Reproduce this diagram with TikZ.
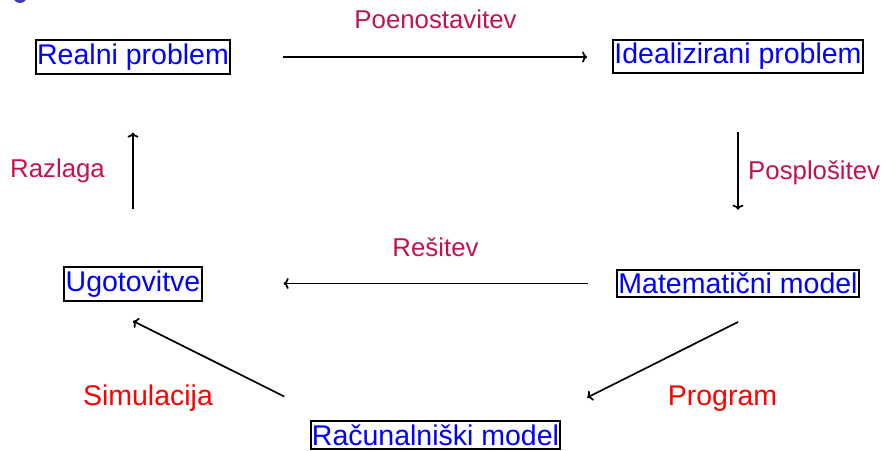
\documentclass[tikz,border=0pt]{standalone}
\usepackage{fontspec}
\setmainfont{Liberation Sans}
\usetikzlibrary{calc,arrows.meta}
\definecolor{lblpurple}{RGB}{196,18,78}
\definecolor{bulletblue}{RGB}{60,60,190}
\tikzset{
  box/.style={draw=black, line width=2pt, text=blue, inner xsep=1.3pt, inner ysep=3.3pt, outer sep=0pt,
    font=\fontsize{28.5}{34}\selectfont},
  arr/.style={-{To[length=5pt,width=11pt]}, line width=1.7pt, black},
  plbl/.style={text=lblpurple, inner sep=0pt, font=\fontsize{25.8}{30}\selectfont},
  rlbl/.style={text=red, inner sep=0pt, font=\fontsize{28.5}{34}\selectfont},
}
\begin{document}
\begin{tikzpicture}[x=1pt,y=-1pt]
\useasboundingbox (0,0) rectangle (882,450);
\begin{scope}
\clip (0,0) rectangle (882,450);
\fill[bulletblue] (20,-4) circle (7);
\end{scope}
% nodes
\node[box] (R) at (133,57) {Realni problem};
\node[box] (I) at (738,56.5) {Idealizirani problem};
\node[box] (U) at (133,284) {Ugotovitve};
\node[box] (M) at (738,283.5) {Matematični model};
\node[box] (C) at (435.5,435) {Računalniški model};
% labels
\node[plbl, anchor=base] (lP) at (435.5,28) {Poenostavitev};
\node[plbl, anchor=base west] (lPo) at (748,179) {Posplošitev};
\node[plbl, anchor=base west] (lRa) at (10,177) {Razlaga};
\node[plbl, anchor=base] (lRe) at (435.5,256) {Rešitev};
\node[rlbl, anchor=base] (lS) at (148,405) {Simulacija};
\node[rlbl, anchor=base] (lPr) at (722.5,405) {Program};
% connectors
\draw[arr, shorten <=53pt, shorten >=26pt] (R.east) -- (R.east -| I.west);
\draw[arr, shorten <=59pt, shorten >=60pt] (I.south) -- (M.north);
\draw[arr, shorten <=29pt, shorten >=82pt] (M.west) -- (M.west -| U.east);
\draw[arr, shorten <=58pt, shorten >=59pt] (U.north) -- (R.south);
\draw[arr, shorten >=169.7pt] ([yshift=-38.5pt]M.center) -- ([yshift=-38.5pt]C.center);
\draw[arr, shorten <=169pt] ([yshift=-37pt]C.center) -- ([yshift=-37pt]U.center);
\end{tikzpicture}
\end{document}
